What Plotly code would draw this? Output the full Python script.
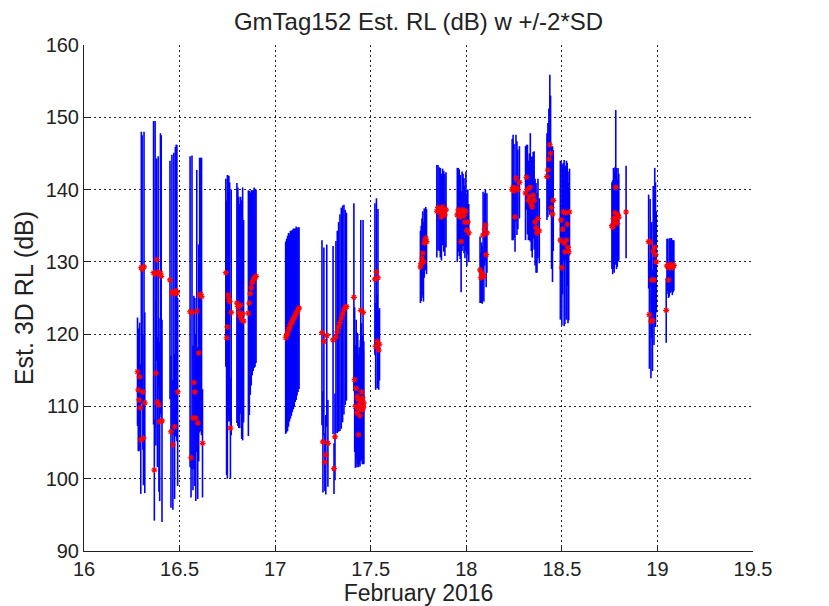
import plotly.graph_objects as go

# day of February 2016, estimated received level (dB) and 2*SD half-width (dB), grouped by burst
day = [
    16.280, 16.284, 16.288, 16.291, 16.294, 16.297, 16.300, 16.304, 16.308, 16.311, 16.314, 16.318,
    16.364, 16.368, 16.372, 16.376, 16.380, 16.384, 16.388, 16.392, 16.396, 16.400, 16.404, 16.408,
    16.450, 16.455, 16.460, 16.465, 16.470, 16.474, 16.478, 16.482, 16.486, 16.490,
    16.555, 16.560, 16.565, 16.570, 16.575, 16.580, 16.585, 16.590, 16.595, 16.600, 16.605, 16.610, 16.615, 16.620,
    16.742, 16.746, 16.750, 16.754, 16.758, 16.762, 16.766, 16.770,
    16.800, 16.805, 16.810, 16.815, 16.820, 16.825, 16.830, 16.835,
    16.860, 16.865, 16.870, 16.875, 16.880, 16.885, 16.890, 16.895, 16.900,
    17.055, 17.060, 17.065, 17.070, 17.075, 17.080, 17.085, 17.090, 17.095, 17.100, 17.105, 17.110, 17.115, 17.120, 17.125,
    17.245, 17.250, 17.255, 17.260, 17.265, 17.270, 17.276,
    17.303, 17.308, 17.313, 17.318, 17.325, 17.332, 17.339, 17.346, 17.353, 17.360, 17.367, 17.373,
    17.412, 17.416, 17.420, 17.424, 17.428, 17.430, 17.432, 17.436, 17.438, 17.440, 17.444, 17.446,
    17.448, 17.452, 17.456, 17.458, 17.460, 17.462, 17.464,
    17.522, 17.526, 17.530, 17.534, 17.538, 17.542, 17.546,
    17.760, 17.764, 17.768, 17.772, 17.776, 17.780, 17.784, 17.788, 17.792,
    17.846, 17.852, 17.858, 17.864, 17.870, 17.876, 17.882, 17.888, 17.894,
    17.953, 17.958, 17.963, 17.968, 17.973, 17.978, 17.983, 17.988, 17.993, 17.998, 18.003, 18.008, 18.013,
    18.072, 18.076, 18.080, 18.084, 18.088, 18.092, 18.096, 18.100, 18.104, 18.108,
    18.240, 18.245, 18.250, 18.255, 18.260, 18.265, 18.270, 18.278,
    18.310, 18.315, 18.320, 18.325, 18.330, 18.335, 18.340, 18.345, 18.350, 18.355, 18.360, 18.365, 18.370, 18.375, 18.382,
    18.422, 18.427, 18.432, 18.437, 18.441, 18.446, 18.451, 18.455,
    18.492, 18.496, 18.500, 18.504, 18.508, 18.512, 18.516, 18.520, 18.524, 18.528, 18.532, 18.536, 18.540,
    18.762, 18.766, 18.770, 18.774, 18.778, 18.782, 18.786, 18.790, 18.794, 18.798, 18.836,
    18.954, 18.958, 18.962, 18.966, 18.970, 18.974, 18.978, 18.982, 18.986, 18.990, 18.994,
    19.046, 19.050, 19.054, 19.058, 19.062, 19.066, 19.070, 19.074, 19.078, 19.082, 19.086,
]

rl = [
    114.8, 112.3, 110.9, 114.1, 109.8, 105.4, 129.2, 129.0, 112.0, 105.6, 129.3, 110.5,
    128.5, 101.2, 128.3, 114.6, 130.3, 110.6, 128.6, 110.2, 107.9, 128.4, 128.0, 108.0,
    127.5, 106.5, 125.8, 104.7, 125.6, 107.2, 125.9, 126.0, 125.7, 112.0,
    123.1, 102.9, 123.0, 108.4, 113.3, 112.0, 108.4, 123.2, 107.7, 117.4, 125.4, 125.5, 125.2, 104.9,
    128.5, 119.5, 121.0, 125.4, 124.9, 124.5, 107.0, 123.0,
    124.3, 123.8, 123.0, 122.5, 124.0, 122.0, 122.8, 121.8,
    122.9, 124.3, 125.6, 126.4, 127.1, 127.4, 127.8, 127.8, 128.0,
    119.5, 119.8, 120.1, 120.6, 120.9, 121.3, 121.5, 121.8, 122.1, 122.3, 122.6, 122.9, 123.1, 123.4, 123.6,
    120.2, 105.1, 119.0, 102.3, 103.3, 119.8, 104.9,
    119.2, 101.4, 105.8, 119.6, 120.3, 121.0, 121.6, 122.2, 122.8, 123.4, 123.7, 123.8,
    125.1, 113.7, 110.0, 112.5, 109.1, 111.4, 111.0, 106.1, 109.6, 110.2, 108.7, 110.8,
    123.3, 112.0, 109.5, 111.2, 123.0, 109.9, 110.5,
    127.6, 118.3, 128.6, 119.0, 127.8, 117.8, 118.6,
    129.3, 129.8, 130.5, 131.2, 130.0, 132.6, 133.0, 133.3, 132.8,
    137.0, 137.5, 137.3, 136.8, 136.2, 137.6, 137.0, 136.5, 137.2,
    136.5, 137.2, 136.8, 136.2, 132.8, 137.0, 137.2, 136.4, 135.5, 137.0, 134.4, 135.5, 134.0,
    128.9, 127.8, 128.5, 128.2, 133.7, 128.0, 134.5, 135.1, 131.0, 134.0,
    140.0, 140.3, 139.8, 136.2, 141.6, 140.2, 140.0, 141.0,
    139.5, 141.7, 140.0, 138.5, 139.0, 140.3, 138.0, 137.6, 139.2, 138.5, 135.5, 134.7, 134.0, 136.0, 134.3,
    141.8, 142.7, 144.2, 146.2, 145.0, 137.5, 136.6, 138.5,
    133.0, 135.8, 129.2, 134.5, 136.9, 132.6, 131.4, 136.8, 133.0, 135.2, 132.0, 131.4, 136.9,
    135.0, 134.8, 136.0, 135.5, 136.8, 140.3, 136.0, 135.3, 136.5, 136.2, 136.9,
    132.8, 122.7, 132.7, 121.8, 127.5, 121.9, 131.5, 127.5, 132.0, 131.0, 130.0,
    123.3, 129.4, 129.6, 127.5, 129.2, 129.5, 129.3, 129.6, 129.2, 129.4, 129.5,
]

sd2 = [
    7.5, 8.5, 7.0, 7.5, 6.0, 7.5, 18.8, 18.5, 8.0, 6.5, 18.7, 12.5,
    21.0, 7.0, 21.2, 10.0, 14.0, 9.0, 16.0, 12.0, 11.0, 19.4, 19.5, 14.0,
    16.5, 10.5, 19.0, 9.0, 19.5, 10.0, 20.0, 20.2, 20.5, 13.0,
    21.5, 5.5, 21.7, 10.0, 12.0, 13.0, 11.5, 19.5, 10.5, 15.0, 19.0, 18.9, 19.2, 7.5,
    13.0, 19.0, 21.0, 16.5, 17.0, 16.5, 7.0, 17.0,
    16.6, 16.5, 16.0, 15.5, 15.0, 16.5, 17.5, 14.0,
    17.0, 15.5, 14.0, 13.5, 12.8, 12.5, 12.5, 12.3, 12.0,
    13.3, 13.4, 13.5, 13.4, 13.0, 13.0, 12.8, 12.6, 12.5, 12.3, 12.0, 12.0, 11.6, 11.4, 11.2,
    12.8, 7.0, 13.0, 4.0, 5.5, 12.6, 6.0,
    13.0, 3.5, 6.0, 13.3, 14.0, 14.5, 15.0, 15.3, 15.0, 14.5, 13.5, 13.0,
    13.0, 10.0, 8.5, 9.5, 7.5, 8.8, 9.0, 4.5, 7.6, 8.0, 7.0, 8.4,
    12.5, 9.5, 7.5, 8.6, 12.8, 7.8, 8.5,
    10.5, 6.0, 10.2, 6.5, 9.5, 5.5, 5.0,
    5.0, 5.2, 5.5, 5.8, 5.5, 4.8, 4.2, 4.3, 4.5,
    6.4, 5.9, 5.8, 6.2, 6.0, 5.3, 5.6, 5.7, 5.2,
    6.5, 5.8, 6.0, 5.8, 7.0, 5.5, 5.0, 5.2, 5.0, 5.5, 5.0, 4.5, 4.0,
    4.6, 3.5, 4.2, 4.0, 6.0, 3.5, 5.0, 4.9, 4.5, 5.5,
    7.0, 7.3, 6.5, 4.8, 6.0, 6.5, 5.5, 5.0,
    6.5, 4.5, 6.2, 5.5, 6.0, 7.5, 6.5, 7.0, 6.0, 6.8, 6.0, 6.2, 5.5, 5.5, 4.5,
    6.0, 6.5, 7.0, 9.7, 8.0, 8.5, 9.4, 7.0,
    11.0, 8.0, 8.0, 9.0, 6.8, 11.5, 10.0, 6.5, 11.0, 8.5, 10.5, 9.5, 6.0,
    6.0, 6.5, 7.0, 7.0, 6.3, 10.7, 7.0, 6.0, 6.5, 6.0, 6.4,
    6.5, 7.5, 6.0, 7.9, 8.0, 7.0, 9.0, 9.0, 11.0, 10.0, 7.0,
    4.5, 3.8, 3.6, 2.5, 4.0, 3.8, 3.5, 3.7, 3.8, 3.6, 3.5,
]

fig = go.Figure()
fig.add_trace(go.Scatter(
    x=day, y=rl, mode="markers",
    marker=dict(symbol="asterisk-open", size=5, color="red", line=dict(color="red", width=1.2)),
    error_y=dict(type="data", array=sd2, symmetric=True, color="rgb(0,0,255)", thickness=1.6, width=0),
    showlegend=False,
))

font = "Liberation Sans, Arial, sans-serif"
axis_common = dict(
    showgrid=True, gridcolor="rgba(0,0,0,0.85)", gridwidth=1, griddash="2px,3px",
    showline=True, linecolor="#222", linewidth=1,
    ticks="inside", ticklen=5, tickcolor="#222",
    tickfont=dict(size=20, color="#222", family=font),
    zeroline=False, mirror=False, automargin=False,
)

# the page body adds an 8px offset, so the figure is sized to fit the window
fig.update_layout(
    width=821, height=598,
    margin=dict(l=76, r=76, t=37, b=55),
    paper_bgcolor="white", plot_bgcolor="white",
    font=dict(family=font, color="#222"),
    title=dict(text="GmTag152 Est. RL (dB) w +/-2*SD", x=0.5, xanchor="center",
               y=0.978, yanchor="middle", font=dict(size=24, color="#222")),
    xaxis=dict(range=[16, 19.5], dtick=0.5, tick0=16,
               title=dict(text="February 2016", font=dict(size=23), standoff=0),
               **axis_common),
    yaxis=dict(range=[90, 160], dtick=10, tick0=90,
               title=dict(text="Est. 3D RL (dB)", font=dict(size=25), standoff=4),
               **axis_common),
)

fig.write_html("out.html")
